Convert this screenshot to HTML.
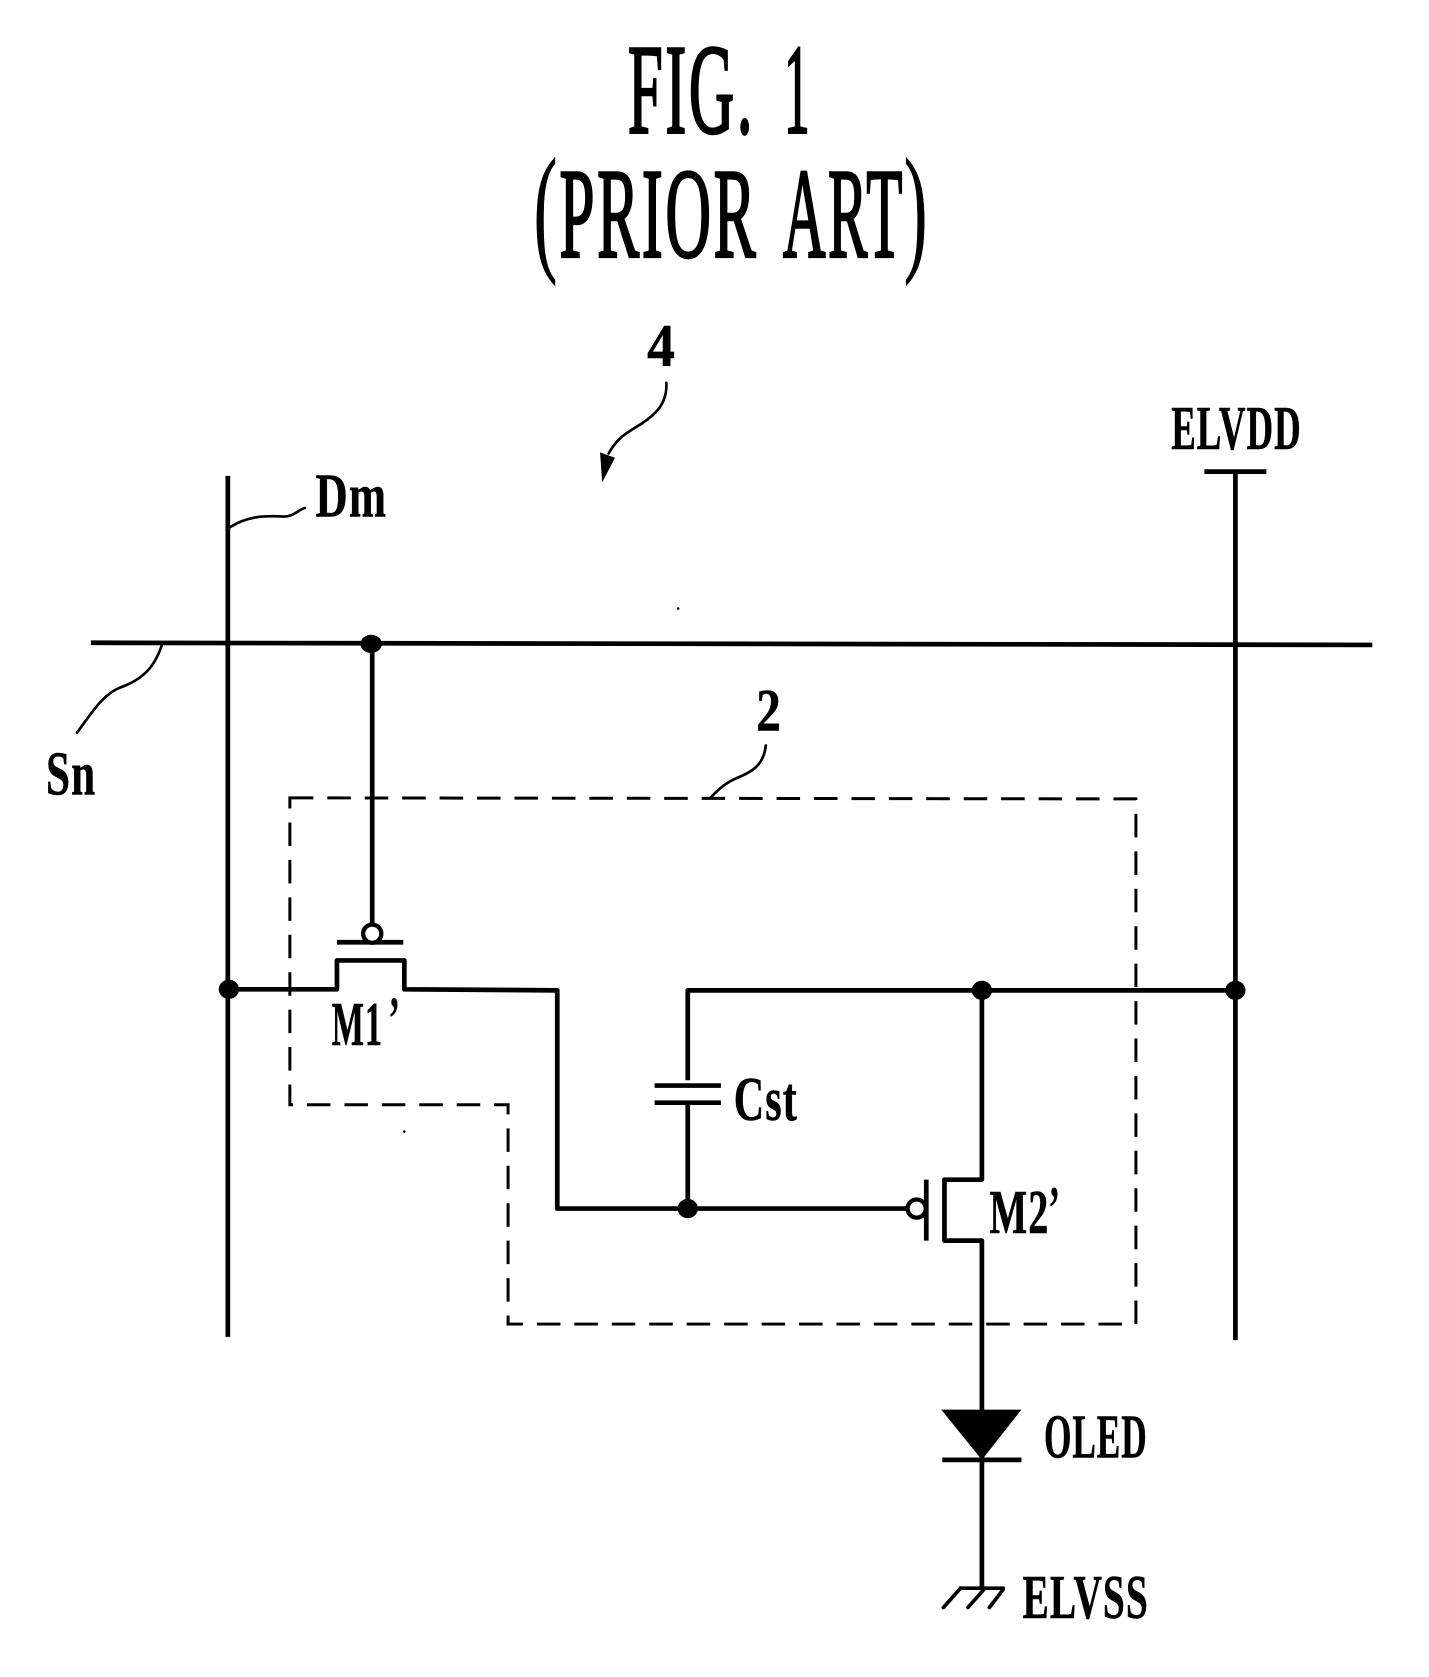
<!DOCTYPE html>
<html lang="en">
<head>
<meta charset="utf-8">
<title>FIG. 1 (PRIOR ART)</title>
<style>
html,body{margin:0;padding:0;background:#fff;width:1429px;height:1677px;overflow:hidden}
svg{display:block}
text{font-family:"Liberation Serif",serif;font-weight:bold;fill:#000}
.t{font-weight:normal;stroke:#000;stroke-width:2.6;letter-spacing:5px}
.l{letter-spacing:1.5px;stroke:#000;stroke-width:.5}
.p{font-weight:normal;stroke:#000;stroke-width:.8}
</style>
</head>
<body>
<svg xmlns="http://www.w3.org/2000/svg" width="1429" height="1677" viewBox="0 0 1336 1568" preserveAspectRatio="none">
<rect width="1336" height="1568" fill="#fff"/>
<text class="t" x="587" y="124" font-size="120" textLength="119" lengthAdjust="spacingAndGlyphs">FIG.</text>
<text class="t" x="733" y="124" font-size="120" textLength="24" lengthAdjust="spacingAndGlyphs" style="letter-spacing:0">1</text>
<text class="p" x="499" y="239" font-size="132" textLength="22" lengthAdjust="spacingAndGlyphs">(</text>
<text class="t" x="523" y="240" font-size="120" textLength="186" lengthAdjust="spacingAndGlyphs">PRIOR</text>
<text class="t" x="732" y="240" font-size="120" textLength="114" lengthAdjust="spacingAndGlyphs">ART</text>
<text class="p" x="845" y="239" font-size="132" textLength="22" lengthAdjust="spacingAndGlyphs">)</text>
<text class="l" x="605" y="342" font-size="56" textLength="26" lengthAdjust="spacingAndGlyphs" style="letter-spacing:0">4</text>
<text class="l" x="295" y="483" font-size="58" textLength="67" lengthAdjust="spacingAndGlyphs">Dm</text>
<text class="l" x="43" y="743" font-size="58" textLength="47" lengthAdjust="spacingAndGlyphs">Sn</text>
<text class="l" x="707" y="683" font-size="56" textLength="23" lengthAdjust="spacingAndGlyphs" style="letter-spacing:0">2</text>
<text class="l" x="1095" y="420" font-size="58" textLength="122" lengthAdjust="spacingAndGlyphs">ELVDD</text>
<text class="l" x="310" y="977" font-size="58" textLength="48" lengthAdjust="spacingAndGlyphs">M1</text>
<text x="363" y="972" font-size="58" textLength="11" lengthAdjust="spacingAndGlyphs">’</text>
<text class="l" x="925" y="1153" font-size="58" textLength="56" lengthAdjust="spacingAndGlyphs">M2</text>
<text x="980" y="1149" font-size="58" textLength="11" lengthAdjust="spacingAndGlyphs">’</text>
<text class="l" x="686" y="1047" font-size="58" textLength="60" lengthAdjust="spacingAndGlyphs">Cst</text>
<text class="l" x="976" y="1363" font-size="58" textLength="97" lengthAdjust="spacingAndGlyphs">OLED</text>
<text class="l" x="956" y="1513" font-size="58" textLength="118" lengthAdjust="spacingAndGlyphs">ELVSS</text>

<g fill="none" stroke="#000" stroke-width="2.5" stroke-linecap="round">
<path d="M623 358C624 378 612 388 600 396C586 405 578 408 569 424"/>
<path d="M215 493C232 482 250 482 265 483C275 483 278 477 285 475"/>
<path d="M151 604C144 625 132 636 112 643C95 650 85 668 72 685"/>
<path d="M716 697C714 716 702 722 690 727C678 732 672 738 665 745"/>
</g>
<polygon points="563,451 561,423 575,428" fill="#000"/>

<path d="M271 746L1062 747L1062 1238L475 1238L475 1033L271 1033Z" fill="none" stroke="#000" stroke-width="2.8" stroke-dasharray="22 13"/>

<g fill="none" stroke="#000" stroke-width="4.4" stroke-linejoin="round">
<path d="M213 445V1250"/>
<path d="M85 601L1283 603"/>
<path d="M1155 441V1253"/>
<path d="M1126 441H1184"/>
<path d="M348 602V865"/>
<path d="M315 881H377"/>
<path d="M214 925H315V898H378V925L521 926V1130H849"/>
<path d="M866 1103V1160"/>
<path d="M643 1010V926H1155"/>
<path d="M612 1015H674"/>
<path d="M612 1031H674"/>
<path d="M643 1031V1130"/>
<path d="M918 926V1103H883V1160H918V1485"/>
<path d="M881 1365H955"/>
</g>
<g fill="none" stroke="#000" stroke-width="3.4" stroke-linecap="round">
<path d="M898 1485H938"/>
<path d="M882 1503L898 1485"/>
<path d="M905 1503L920 1486"/>
<path d="M925 1503L938 1486"/>
</g>
<polygon points="880,1318 955,1318 918,1365" fill="#000"/>
<circle cx="348" cy="873" r="8.5" fill="#fff" stroke="#000" stroke-width="4"/>
<circle cx="857" cy="1130" r="8.5" fill="#fff" stroke="#000" stroke-width="4"/>
<g fill="#000">
<ellipse cx="347" cy="602" rx="10" ry="8.5"/>
<ellipse cx="214" cy="925" rx="9.5" ry="9"/>
<ellipse cx="643" cy="1130" rx="9.5" ry="9"/>
<ellipse cx="918" cy="926" rx="9.5" ry="9"/>
<ellipse cx="1155" cy="926" rx="9.5" ry="9"/>
<circle cx="634" cy="569" r="1.2"/>
<circle cx="378" cy="1058" r="1.2"/>
</g>
</svg>
</body>
</html>
